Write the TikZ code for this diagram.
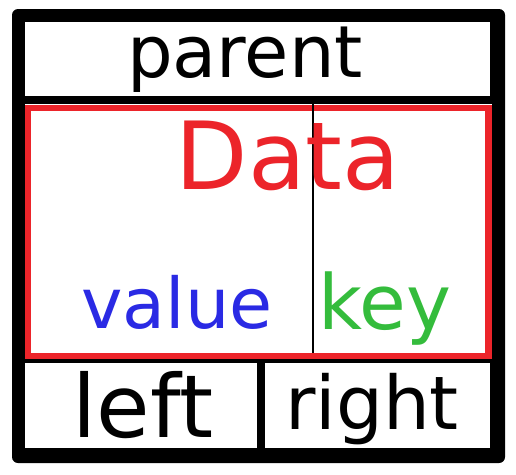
\documentclass[tikz,border=0pt]{standalone}
\usepackage{fontspec}
\setmainfont{DejaVu Sans}
\usepackage{xcolor}
\usetikzlibrary{positioning}
\definecolor{datared}{RGB}{236,36,42}
\definecolor{valblue}{RGB}{42,42,228}
\definecolor{keygreen}{RGB}{52,188,60}

\begin{document}
\begin{tikzpicture}[x=1pt,y=-1pt,
  lbl/.style={anchor=base,inner sep=0pt,font=\fontsize{#1}{#1}\selectfont},
  cell/.style={fill=white}]
  \useasboundingbox (0,0) rectangle (516,474);
  % outer frame
  \fill[rounded corners=6pt] (12,9) rectangle (505,463);
  % parent
  \fill[cell] (25,22) rectangle (490,96);
  \node[lbl=72] (parent) at (245,77) {parent};
  % data
  \fill[cell] (25,104) rectangle (492,359);
  \draw[datared,line width=6.5pt] (28,108) rectangle (488.5,356);
  \coordinate (st) at (312.5,97);
  \coordinate (sb) at (312.5,353);
  \draw[line width=2pt] (st) -- (sb);
  \node[lbl=94,text=datared] (data) at (288,189) {Data};
  \node[lbl=70,text=valblue] (value) at (177,328) {value};
  \node[lbl=76,text=keygreen] (key) at (385,329) {key};
  % children
  \fill[cell] (25,363) rectangle (257,448);
  \fill[cell] (265,363) rectangle (490,448);
  \node[lbl=87] (left) at (143,437) {left};
  \node[lbl=74] (right) at (372,429) {right};
\end{tikzpicture}
\end{document}
